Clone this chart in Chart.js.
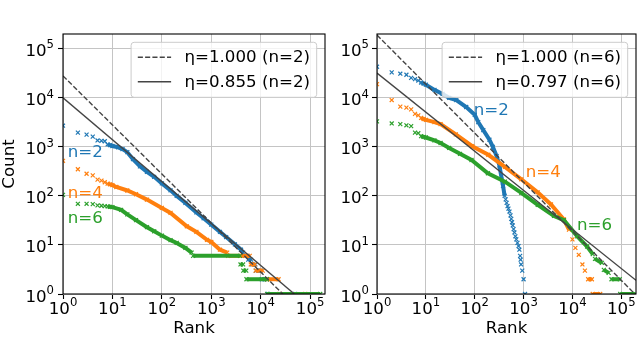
<!DOCTYPE html>
<html>
<head>
<meta charset="utf-8">
<script src="https://cdn.jsdelivr.net/npm/chart.js@4.4.1/dist/chart.umd.min.js"></script>
<style>
  html, body { margin: 0; padding: 0; background: #fff; }
  #wrap { position: relative; width: 640px; height: 338px; overflow: hidden; }
  #wrap canvas { position: absolute; top: 0; }
</style>
</head>
<body>
<div id="wrap">
  <canvas id="left" width="330" height="338" style="left:0;width:330px;height:338px"></canvas>
  <canvas id="right" width="310" height="338" style="left:330px;width:310px;height:338px"></canvas>
</div>
<script>
// axis ticks (log scale, powers of ten)
const tickValues = [1, 10, 100, 1000, 10000, 100000];
const tickBase = '10';
const tickExponents = ['0', '1', '2', '3', '4', '5'];
const axisMin = 1;
const axisMax = 2e5;

const seriesNames = ['n=2', 'n=4', 'n=6'];

// left panel, fits for n=2
const leftFitLabels = ['η=1.000 (n=2)', 'η=0.855 (n=2)'];
const leftDashRank = [1, 28000];
const leftDashCount = [28000, 1];
const leftSolidRank = [1, 48000];
const leftSolidCount = [10000, 1];

const leftN2Rank = [1, 2, 3, 4, 5, 6, 7, 8, 9, 10, 13, 16, 20, 26, 36, 50, 70, 100, 150, 200, 300, 500, 700, 1000, 1500, 2000, 3000, 4000, 4400, 4800, 5400, 5600, 6400, 6600, 7800, 8000, 10000, 10500, 13500, 14000, 50000];
const leftN2Count = [2700, 1950, 1780, 1620, 1350, 1330, 1300, 1120, 1080, 1040, 980, 900, 780, 560, 400, 310, 245, 180, 130, 100, 72, 46, 35, 26, 18.5, 14.5, 10.3, 8, 7, 6, 6, 5, 5, 4, 4, 3, 3, 2, 2, 1, 1];

const leftN4Rank = [1, 2, 3, 4, 5, 6, 7, 8, 9, 10, 12, 20, 30, 50, 100, 150, 320, 500, 820, 1000, 1500, 2100, 2200, 6000, 6300, 7600, 7900, 11000, 13500, 23000, 24000, 80000];
const leftN4Count = [520, 350, 283, 262, 215, 205, 190, 178, 172, 166, 152, 129, 108, 84, 57, 45, 24, 18.5, 12.7, 11.5, 8, 7, 6, 6, 4, 4, 3, 3, 2, 2, 1, 1];

const leftN6Rank = [1, 2, 3, 4, 5, 6, 7, 8, 9, 10, 15, 20, 30, 50, 70, 100, 150, 200, 300, 400, 430, 3800, 3900, 4400, 4450, 5100, 5150, 13300, 13500, 160000];
const leftN6Count = [105, 69, 69, 68, 64, 63, 62, 61, 60, 59, 52, 42, 32, 23, 19, 15.5, 12.5, 11, 8.7, 7, 6, 6, 4, 4, 3, 3, 2, 2, 1, 1];

const leftNameRank = [1.25, 1.25, 1.25];
const leftNameCount = [611, 89, 28.4];

// right panel, fits for n=6
const rightFitLabels = ['η=1.000 (n=6)', 'η=0.797 (n=6)'];
const rightDashRank = [1, 190000];
const rightDashCount = [190000, 1];
const rightSolidRank = [1, 200000];
const rightSolidCount = [32000, 1.9];

const rightN2Rank = [1, 2, 3, 4, 5, 6, 7, 8, 9, 10, 15, 22, 30, 42, 67, 100, 118, 150, 200, 235, 280, 320, 350, 380, 410, 430, 450, 470, 490, 515, 540, 560, 580, 600, 625, 650, 680, 710, 750, 790, 820, 850, 870, 890, 940, 1000, 1070];
const rightN2Count = [43000, 33000, 31000, 29500, 25500, 24000, 22500, 20500, 19500, 18500, 14500, 12000, 10000, 9000, 6500, 4500, 3200, 2200, 1400, 1000, 650, 420, 250, 160, 100, 85, 72, 62, 55, 48, 40, 34, 29, 25, 21, 18, 15, 13, 11, 9.5, 8, 6, 5, 4, 3, 2, 1];

const rightN4Rank = [1, 2, 3, 4, 5, 6, 7, 8, 9, 10, 15, 20, 41, 89, 190, 415, 900, 1940, 3640, 6700, 8500, 10000, 11500, 13500, 16000, 18000, 21000, 25000, 26000, 37000];
const rightN4Count = [19000, 9000, 6600, 6300, 5800, 4700, 4400, 3900, 3700, 3550, 3200, 2900, 1800, 1030, 690, 390, 218, 118, 67, 33, 20.5, 13, 8.7, 6.3, 4, 3, 2, 2, 1, 1];

const rightN6Rank = [1, 2, 3, 4, 5, 6, 7, 8, 9, 10, 15, 20, 30, 50, 86, 186, 415, 900, 1950, 4200, 6700, 12600, 20000, 26000, 29000, 40000, 44000, 55000, 63000, 93000, 95000, 190000];
const rightN6Count = [3300, 3000, 2900, 2750, 2650, 1950, 1900, 1650, 1600, 1550, 1350, 1200, 950, 720, 540, 290, 195, 115, 66, 39, 32, 15, 9.3, 6.5, 5.2, 4.3, 3.1, 2.7, 2, 2, 1, 1];

const rightNameRank = [95, 1110, 12400];
const rightNameCount = [4450, 246, 20.2];

const seriesColors = ['#1f77b4', '#ff7f0e', '#2ca02c'];
const fitColor = '#444444';
const FONT = '"DejaVu Sans", sans-serif';
const FONT_SIZE = 16.67;

function font(size) {
  return size + 'px ' + FONT;
}

function zip(xs, ys) {
  return xs.map((x, i) => ({ x, y: ys[i] }));
}

// markers stay alone in the sparse head and where the curve drops steeply at low counts
function seriesDataset(label, color, ranks, counts, sparseBelow) {
  return {
    label,
    data: zip(ranks, counts),
    showLine: true,
    clip: 0,
    borderColor: color,
    backgroundColor: color,
    borderWidth: 4,
    pointStyle: 'crossRot',
    pointRadius: 2.8,
    pointBorderWidth: 1.2,
    pointBorderColor: color,
    pointHoverRadius: 0,
    segment: {
      borderColor(ctx) {
        const i = ctx.p0DataIndex;
        if (ranks[i] < 8) return 'rgba(0,0,0,0)';
        const dx = Math.abs(ctx.p1.x - ctx.p0.x);
        const dy = Math.abs(ctx.p1.y - ctx.p0.y);
        if (counts[i + 1] < sparseBelow && dy > 1.5 * dx) return 'rgba(0,0,0,0)';
        return undefined;
      },
    },
  };
}

function fitDataset(label, ranks, counts, dash) {
  return {
    label,
    fit: true,
    data: zip(ranks, counts),
    showLine: true,
    clip: 0,
    borderColor: fitColor,
    borderWidth: 1.4,
    borderDash: dash,
    pointRadius: 0,
    pointHoverRadius: 0,
  };
}

function drawPower(ctx, exp, x, baseline, align) {
  ctx.font = font(FONT_SIZE);
  const wb = ctx.measureText(tickBase).width;
  ctx.font = font(11.67);
  const we = ctx.measureText(exp).width;
  const left = align === 'center' ? x - (wb + we) / 2 : x - wb - we;
  ctx.textAlign = 'left';
  ctx.textBaseline = 'alphabetic';
  ctx.font = font(FONT_SIZE);
  ctx.fillText(tickBase, left, baseline);
  ctx.font = font(11.67);
  ctx.fillText(exp, left + wb, baseline - 7.8);
}

function roundRectPath(ctx, x, y, w, h, r) {
  ctx.beginPath();
  ctx.moveTo(x + r, y);
  ctx.lineTo(x + w - r, y);
  ctx.arcTo(x + w, y, x + w, y + r, r);
  ctx.lineTo(x + w, y + h - r);
  ctx.arcTo(x + w, y + h, x + w - r, y + h, r);
  ctx.lineTo(x + r, y + h);
  ctx.arcTo(x, y + h, x, y + h - r, r);
  ctx.lineTo(x, y + r);
  ctx.arcTo(x, y, x + r, y, r);
  ctx.closePath();
}

function decorPlugin(panel) {
  return {
    id: 'panelDecor',
    afterDraw(chart) {
      const { ctx, chartArea: area, scales } = chart;
      const xs = scales.x;
      const ys = scales.y;
      ctx.save();

      ctx.strokeStyle = '#000';
      ctx.lineWidth = 1.1;
      ctx.strokeRect(area.left, area.top, area.right - area.left, area.bottom - area.top);

      ctx.fillStyle = '#000';
      tickValues.forEach((v, i) => {
        drawPower(ctx, tickExponents[i], xs.getPixelForValue(v), area.bottom + 19.5, 'center');
        drawPower(ctx, tickExponents[i], area.left - panel.yLabelGap, ys.getPixelForValue(v) + 7.5, 'right');
      });

      ctx.font = font(FONT_SIZE);
      ctx.textAlign = 'left';
      ctx.textBaseline = 'alphabetic';
      seriesNames.forEach((name, i) => {
        ctx.fillStyle = seriesColors[i];
        ctx.fillText(name, xs.getPixelForValue(panel.nameRank[i]), ys.getPixelForValue(panel.nameCount[i]));
      });

      // legend box, upper right
      const fits = chart.data.datasets.filter((d) => d.fit);
      ctx.font = font(FONT_SIZE);
      const tw = Math.max(...fits.map((d) => ctx.measureText(d.label).width));
      const w = 53 + tw + 7;
      const h = 55;
      const bx = area.right - 8.3 - w;
      const by = area.top + 8.3;
      roundRectPath(ctx, bx, by, w, h, 3);
      ctx.fillStyle = 'rgba(255,255,255,0.8)';
      ctx.fill();
      ctx.strokeStyle = '#cccccc';
      ctx.lineWidth = 1;
      ctx.stroke();
      fits.forEach((d, i) => {
        const ly = by + 15 + i * 24.5;
        ctx.strokeStyle = d.borderColor;
        ctx.lineWidth = d.borderWidth;
        ctx.setLineDash(d.borderDash || []);
        ctx.beginPath();
        ctx.moveTo(bx + 6.7, ly);
        ctx.lineTo(bx + 40, ly);
        ctx.stroke();
        ctx.setLineDash([]);
        ctx.fillStyle = '#000';
        ctx.textBaseline = 'middle';
        ctx.fillText(d.label, bx + 53.3, ly + 0.5);
      });

      ctx.restore();
    },
  };
}

function logAxis(title, fitSize, horizontal) {
  return {
    type: 'logarithmic',
    min: axisMin,
    max: axisMax,
    border: { display: false },
    grid: {
      color: '#c4c4c4',
      lineWidth: 1,
      drawTicks: true,
      tickLength: 5,
      tickWidth: 1.1,
      tickColor: '#000',
    },
    ticks: { display: false },
    afterBuildTicks(scale) {
      scale.ticks = tickValues.map((value) => ({ value }));
    },
    afterFit(scale) {
      if (horizontal) scale.height = fitSize;
      else scale.width = fitSize;
    },
    title: {
      display: Boolean(title),
      text: title || '',
      color: '#000',
      font: { family: FONT, size: FONT_SIZE, lineHeight: horizontal ? 1.08 : 1.15 },
      padding: 0,
    },
  };
}

function makePanel(canvasId, datasets, panel) {
  return new Chart(document.getElementById(canvasId), {
    type: 'scatter',
    data: { datasets },
    options: {
      responsive: false,
      animation: false,
      events: [],
      layout: { padding: { top: 34, right: panel.padRight, bottom: 0, left: 0 } },
      plugins: { legend: { display: false }, tooltip: { enabled: false } },
      scales: {
        x: logAxis('Rank', 44, true),
        y: logAxis(panel.yTitle, panel.yAxisWidth, false),
      },
    },
    plugins: [decorPlugin(panel)],
  });
}

makePanel('left', [
  fitDataset(leftFitLabels[0], leftDashRank, leftDashCount, [5.1, 2.2]),
  fitDataset(leftFitLabels[1], leftSolidRank, leftSolidCount, []),
  seriesDataset(seriesNames[2], seriesColors[2], leftN6Rank, leftN6Count, 10),
  seriesDataset(seriesNames[1], seriesColors[1], leftN4Rank, leftN4Count, 10),
  seriesDataset(seriesNames[0], seriesColors[0], leftN2Rank, leftN2Count, 10),
], {
  yTitle: 'Count', yAxisWidth: 63, padRight: 5, yLabelGap: 9,
  nameRank: leftNameRank, nameCount: leftNameCount,
});

makePanel('right', [
  fitDataset(rightFitLabels[0], rightDashRank, rightDashCount, [5.1, 2.2]),
  fitDataset(rightFitLabels[1], rightSolidRank, rightSolidCount, []),
  seriesDataset(seriesNames[2], seriesColors[2], rightN6Rank, rightN6Count, 10),
  seriesDataset(seriesNames[1], seriesColors[1], rightN4Rank, rightN4Count, 15),
  seriesDataset(seriesNames[0], seriesColors[0], rightN2Rank, rightN2Count, 90),
], {
  yTitle: '', yAxisWidth: 47, padRight: 1, yLabelGap: 8,
  nameRank: rightNameRank, nameCount: rightNameCount,
});
</script>
</body>
</html>
